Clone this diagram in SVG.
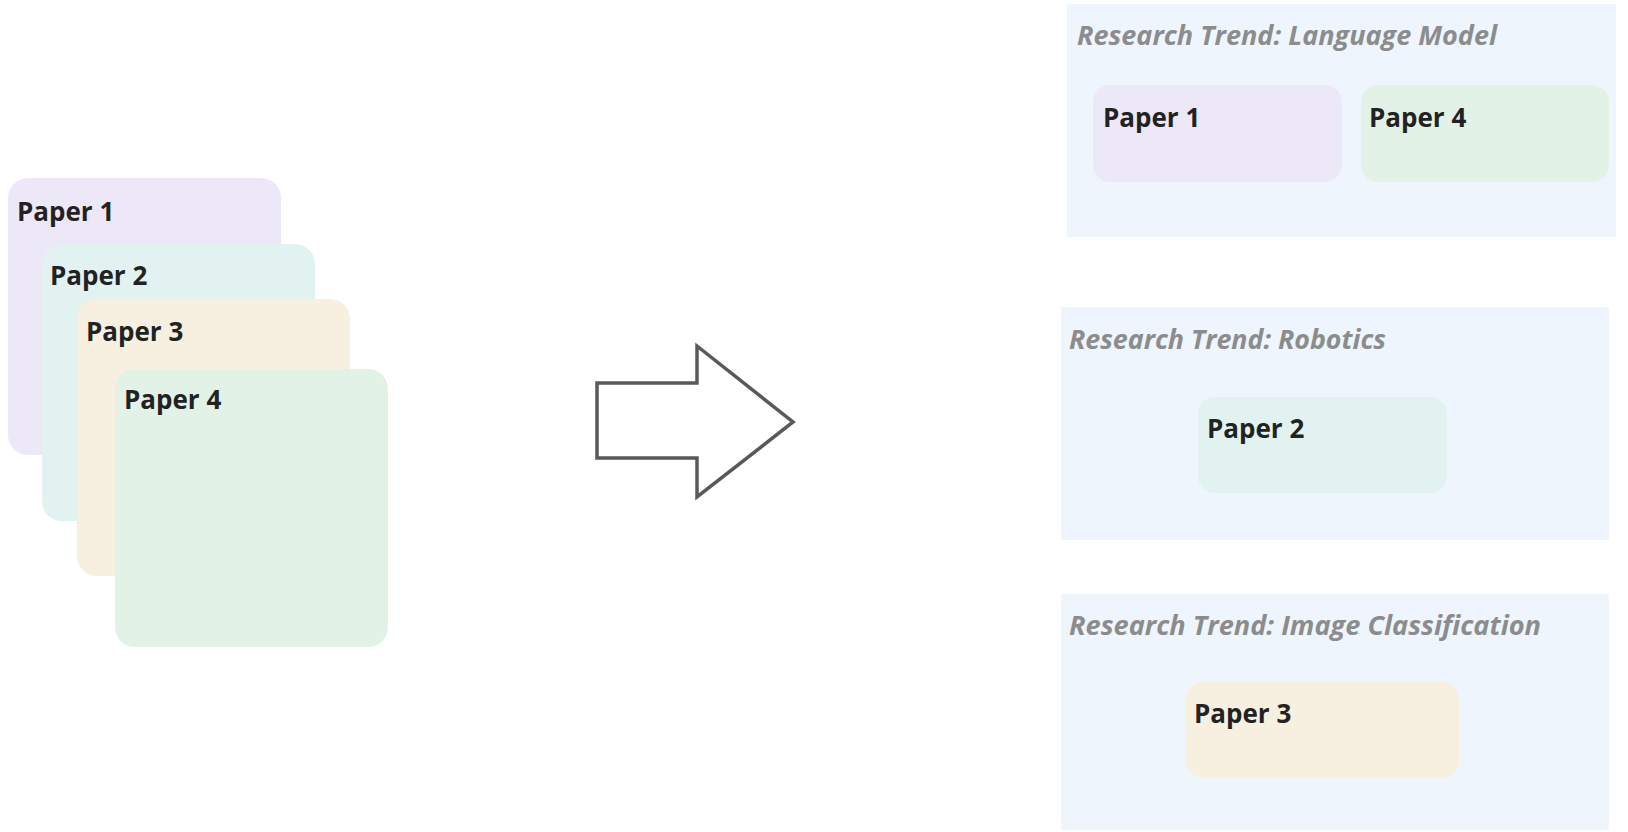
<svg xmlns="http://www.w3.org/2000/svg" width="1628" height="832" viewBox="0 0 1628 832">
<style>
.lbl{font-family:"Open Sans","Noto Sans","Liberation Sans",sans-serif;font-weight:700;font-size:26px;fill:#222222}
.ttl{font-family:"Open Sans","Noto Sans","Liberation Sans",sans-serif;font-weight:700;font-style:italic;font-size:26px;fill:#8c8c8c}
.cont{fill:#eef5fc}
.p1{fill:#ece8f8}.p2{fill:#e1f2f1}.p3{fill:#f7f0e0}.p4{fill:#e2f2e6}
.arrow{fill:#ffffff;stroke:#595959;stroke-width:3.5;stroke-linejoin:miter}
</style>
<rect width="1628" height="832" fill="#ffffff"/>
<g id="stack-paper1"><rect class="p1" x="8" y="178" width="273" height="277" rx="20"/><text class="lbl" x="17" y="221">Paper 1</text></g>
<g id="stack-paper2"><rect class="p2" x="42" y="244" width="273" height="277" rx="20"/><text class="lbl" x="50" y="285">Paper 2</text></g>
<g id="stack-paper3"><rect class="p3" x="77" y="299" width="273" height="277" rx="20"/><text class="lbl" x="86" y="341">Paper 3</text></g>
<g id="stack-paper4"><rect class="p4" x="115" y="369" width="273" height="278" rx="20"/><text class="lbl" x="124" y="409">Paper 4</text></g>
<g id="connectors"><polygon class="arrow" points="597,383 697,383 697,346 793,422 697,497 697,458 597,458"/></g>
<g id="trend-language-model"><rect class="cont" x="1067" y="4" width="549" height="233"/><text class="ttl" x="1077" y="45" textLength="420" lengthAdjust="spacingAndGlyphs">Research Trend: Language Model</text>
<g id="lm-paper1"><rect class="p1" x="1093" y="85" width="249" height="97" rx="17"/><text class="lbl" x="1103" y="127">Paper 1</text></g>
<g id="lm-paper4"><rect class="p4" x="1361" y="85" width="248" height="97" rx="17"/><text class="lbl" x="1369" y="127">Paper 4</text></g></g>
<g id="trend-robotics"><rect class="cont" x="1061" y="307" width="548" height="233"/><text class="ttl" x="1069" y="349" textLength="317" lengthAdjust="spacingAndGlyphs">Research Trend: Robotics</text>
<g id="rb-paper2"><rect class="p2" x="1198" y="397" width="249" height="96" rx="17"/><text class="lbl" x="1207" y="438">Paper 2</text></g></g>
<g id="trend-image-classification"><rect class="cont" x="1061" y="594" width="548" height="236"/><text class="ttl" x="1069" y="635" textLength="472" lengthAdjust="spacingAndGlyphs">Research Trend: Image Classification</text>
<g id="ic-paper3"><rect class="p3" x="1186" y="682" width="273" height="96" rx="17"/><text class="lbl" x="1194" y="723">Paper 3</text></g></g>
</svg>
